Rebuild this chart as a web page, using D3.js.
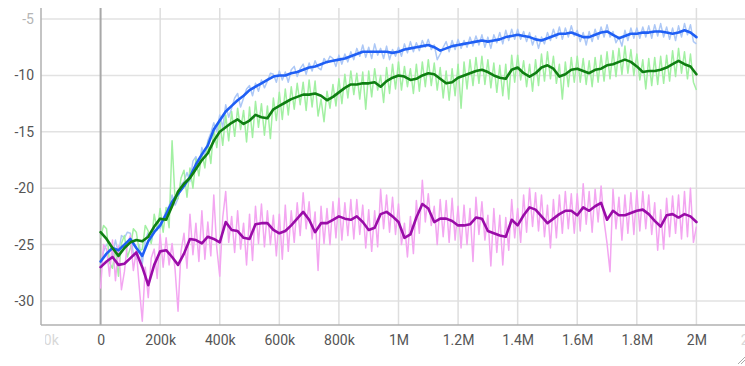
<!DOCTYPE html>
<html>
<head>
<meta charset="utf-8">
<script src="https://cdn.jsdelivr.net/npm/d3@7"></script>
<style>
  html, body { margin: 0; padding: 0; background: #fff; }
  svg { display: block; font-family: Roboto, "Noto Sans", sans-serif; }
</style>
</head>
<body>
<div id="chart"></div>
<script>
// raw samples every 10k steps, smoothed curve sampled every 20k
const rawSteps = d3.range(0, 2000001, 10000)
const smoothSteps = d3.range(0, 2000001, 20000)

const xTicks = [-200000, 0, 200000, 400000, 600000, 800000, 1000000, 1200000, 1400000, 1600000, 1800000, 2000000, 2200000]
const xTickLabels = ['-200k', '0', '200k', '400k', '600k', '800k', '1M', '1.2M', '1.4M', '1.6M', '1.8M', '2M', '2.2M']
const yTicks = [-5, -10, -15, -20, -25, -30]

// blue run
const blueRaw = [
  -26.9, -25.6, -25.0, -24.8, -25.9, -24.6, -25.8, -24.2, -24.4, -23.9, -24.0, -25.8, -26.3, -25.0, -26.7, -24.6, -23.9, -24.8, -23.5, -23.0,
  -23.6, -22.8, -22.0, -21.6, -20.6, -21.5, -20.9, -19.7, -19.4, -18.6, -19.4, -17.6, -17.2, -18.1, -16.4, -17.2, -15.8, -15.1, -14.2, -15.0,
  -13.5, -14.6, -12.6, -13.7, -12.9, -12.0, -11.6, -12.8, -12.0, -11.2, -10.9, -11.8, -10.7, -11.4, -10.4, -11.1, -10.5, -9.8, -9.9, -10.6,
  -9.6, -10.4, -9.7, -10.6, -9.5, -9.2, -10.1, -9.4, -9.0, -9.9, -8.9, -9.6, -8.7, -9.3, -9.5, -8.5, -8.9, -8.3, -8.5, -9.2,
  -8.2, -9.0, -8.1, -8.8, -7.9, -8.6, -7.6, -8.3, -7.3, -8.4, -7.5, -8.5, -7.2, -8.2, -7.6, -8.5, -7.4, -8.6, -7.7, -8.3,
  -7.5, -8.3, -7.2, -8.0, -7.0, -7.9, -7.1, -7.8, -6.9, -7.5, -6.8, -7.7, -7.3, -8.6, -8.1, -7.5, -7.0, -7.9, -6.9, -7.7,
  -6.8, -7.6, -6.9, -7.5, -6.6, -7.4, -6.5, -7.3, -6.4, -7.5, -6.6, -7.6, -6.4, -7.1, -6.2, -7.2, -6.0, -6.9, -5.9, -6.8,
  -5.9, -6.8, -6.1, -7.0, -6.2, -7.3, -6.5, -7.6, -6.6, -7.2, -6.2, -6.9, -5.9, -6.7, -5.7, -6.8, -5.8, -6.6, -5.6, -6.5,
  -6.0, -7.0, -6.2, -7.3, -6.1, -7.0, -5.9, -6.8, -5.7, -6.6, -5.5, -6.6, -6.1, -7.1, -6.6, -7.4, -6.0, -6.9, -5.8, -6.7,
  -5.8, -6.7, -5.7, -6.6, -5.6, -6.7, -5.5, -6.5, -5.4, -6.6, -5.7, -6.8, -5.8, -6.9, -5.6, -6.6, -5.4, -6.4, -5.5, -7.0,
  -7.2]
const blueSmooth = [-26.5, -25.8, -25.3, -25.5, -25.0, -24.5, -25.3, -26.0, -24.7, -23.9,
  -23.3, -22.3, -21.2, -20.5, -19.8, -19.0, -17.9, -17.0, -16.2, -14.8,
  -14.0, -13.2, -12.7, -12.2, -11.8, -11.3, -11.0, -10.7, -10.4, -10.1,
  -10.0, -10.0, -9.8, -9.7, -9.5, -9.3, -9.2, -9.0, -8.8, -8.7,
  -8.6, -8.5, -8.3, -8.1, -7.9, -7.9, -7.9, -7.9, -7.9, -8.0,
  -7.9, -7.7, -7.6, -7.5, -7.4, -7.3, -7.5, -7.8, -7.6, -7.4,
  -7.3, -7.2, -7.1, -7.0, -6.9, -7.0, -6.9, -6.8, -6.6, -6.5,
  -6.4, -6.5, -6.6, -6.8, -6.9, -6.7, -6.5, -6.3, -6.3, -6.2,
  -6.4, -6.6, -6.6, -6.4, -6.2, -6.1, -6.4, -6.7, -6.5, -6.3,
  -6.3, -6.2, -6.2, -6.1, -6.1, -6.2, -6.3, -6.2, -6.0, -6.2, -6.6]

// green run
const greenRaw = [
  -24.4, -23.3, -23.6, -26.6, -27.1, -25.4, -27.8, -24.9, -24.2, -26.1, -25.3, -23.6, -23.9, -25.6, -25.4, -23.3, -23.8, -24.9, -22.3, -23.7,
  -21.8, -23.9, -21.7, -23.5, -15.8, -21.0, -20.9, -19.1, -18.4, -20.8, -18.2, -20.0, -17.4, -18.9, -16.8, -18.2, -15.9, -17.8, -14.7, -16.4,
  -14.0, -16.2, -13.5, -15.8, -13.2, -15.4, -12.9, -14.8, -13.1, -15.9, -12.8, -15.5, -12.3, -14.6, -12.5, -15.3, -12.7, -15.6, -12.0, -14.0,
  -11.5, -13.9, -11.2, -13.5, -11.0, -13.0, -10.7, -12.6, -10.6, -13.1, -10.4, -12.8, -10.5, -13.6, -12.1, -14.1, -11.4, -12.9, -10.8, -12.7,
  -10.3, -12.5, -9.9, -12.0, -9.6, -11.7, -9.8, -12.1, -9.7, -13.0, -9.6, -11.9, -9.4, -11.3, -10.0, -12.4, -9.3, -11.6, -9.0, -11.2,
  -8.8, -11.3, -9.2, -11.0, -9.4, -11.6, -9.0, -11.4, -8.8, -11.0, -8.6, -10.9, -8.9, -11.3, -9.3, -12.0, -9.6, -12.2, -9.4, -11.8,
  -9.0, -12.9, -8.8, -11.2, -8.6, -10.9, -8.4, -10.7, -8.3, -10.8, -8.6, -11.1, -8.9, -11.5, -9.1, -11.8, -9.0, -12.1, -8.2, -10.6,
  -8.2, -10.4, -8.7, -11.0, -9.0, -11.4, -8.6, -10.9, -8.1, -10.5, -7.9, -10.3, -8.3, -10.7, -9.0, -12.1, -8.8, -11.0, -8.4, -10.6,
  -8.3, -10.6, -8.5, -10.8, -8.7, -11.0, -8.4, -10.6, -8.2, -10.5, -7.9, -10.3, -7.8, -10.1, -7.6, -9.9, -7.4, -9.8, -7.7, -10.0,
  -8.1, -10.4, -8.6, -11.2, -8.5, -10.9, -8.4, -10.8, -8.3, -10.7, -8.2, -10.5, -7.8, -10.1, -7.6, -9.8, -7.9, -10.3, -8.1, -10.6,
  -11.3]
const greenSmooth = [-23.9, -24.5, -25.3, -26.0, -25.3, -24.8, -24.6, -24.7, -24.3, -23.4,
  -22.7, -22.8, -21.6, -20.3, -19.6, -19.1, -18.3, -17.5, -16.9, -15.8,
  -15.0, -14.6, -14.2, -13.9, -14.3, -14.0, -13.5, -13.7, -13.8, -13.0,
  -12.7, -12.4, -12.1, -11.9, -11.7, -11.7, -11.6, -11.8, -12.2, -11.9,
  -11.5, -11.1, -10.8, -10.8, -10.7, -10.7, -10.6, -11.0, -10.5, -10.2,
  -10.0, -10.1, -10.4, -10.3, -10.0, -9.8, -9.9, -10.3, -10.7, -10.6,
  -10.2, -10.0, -9.8, -9.6, -9.5, -9.7, -10.0, -10.2, -10.3, -9.5,
  -9.3, -9.8, -10.1, -9.8, -9.3, -9.1, -9.4, -10.1, -9.9, -9.5,
  -9.4, -9.6, -9.8, -9.5, -9.4, -9.1, -9.0, -8.8, -8.6, -8.8,
  -9.2, -9.7, -9.6, -9.6, -9.5, -9.3, -9.0, -8.7, -9.0, -9.2, -9.9]

// purple run
const purpleRaw = [
  -28.9, -25.0, -25.4, -27.8, -24.6, -28.2, -25.1, -29.0, -27.4, -24.9, -24.2, -27.3, -25.5, -28.8, -31.8, -27.0, -29.7, -26.2, -25.4, -28.0,
  -24.1, -27.0, -24.4, -26.8, -24.9, -27.2, -30.9, -25.6, -24.0, -27.1, -22.3, -25.9, -23.1, -26.5, -22.0, -26.3, -23.0, -26.0, -20.6, -25.3,
  -27.8, -22.6, -20.3, -24.8, -22.5, -25.7, -22.0, -25.4, -23.1, -26.8, -22.3, -26.4, -21.6, -24.9, -21.4, -25.2, -22.0, -25.0, -22.4, -26.0,
  -22.3, -26.3, -21.5, -25.6, -22.0, -24.8, -21.3, -24.2, -20.4, -23.6, -21.2, -24.5, -22.1, -27.3, -21.6, -24.9, -21.8, -25.0, -21.2, -24.4,
  -20.9, -24.6, -21.3, -24.2, -21.0, -24.5, -21.0, -24.1, -21.5, -25.3, -21.9, -25.6, -22.0, -25.2, -20.1, -23.6, -20.6, -23.9, -20.8, -24.1,
  -21.4, -25.0, -23.1, -26.1, -22.5, -25.8, -21.1, -24.0, -19.3, -23.0, -20.5, -23.3, -21.6, -25.0, -21.0, -24.3, -21.1, -24.8, -20.9, -24.6,
  -21.6, -25.3, -21.5, -25.0, -21.8, -26.5, -20.8, -24.1, -21.2, -24.6, -22.4, -26.9, -21.8, -25.7, -22.4, -26.8, -22.6, -25.5, -21.0, -24.4,
  -21.8, -24.8, -20.6, -23.9, -20.0, -23.4, -20.4, -23.8, -20.6, -24.3, -21.5, -25.3, -21.0, -24.4, -20.6, -24.0, -20.3, -23.6, -20.5, -24.0,
  -20.5, -23.8, -19.6, -23.2, -20.3, -23.9, -20.1, -23.0, -19.8, -22.9, -24.9, -27.4, -20.1, -23.6, -20.8, -24.6, -20.6, -24.0, -20.4, -24.1,
  -20.2, -23.8, -20.3, -23.6, -20.6, -24.1, -21.3, -25.5, -21.9, -25.4, -20.9, -24.3, -20.7, -24.0, -20.6, -24.5, -20.3, -24.3, -20.0, -24.8,
  -23.4]
const purpleSmooth = [-27.0, -26.5, -26.1, -26.8, -26.7, -26.2, -25.7, -27.0, -28.6, -26.8,
  -25.6, -25.5, -26.1, -26.8, -25.8, -24.5, -24.6, -24.9, -24.3, -24.5,
  -24.8, -23.0, -23.7, -23.8, -24.4, -24.5, -23.2, -23.1, -23.1, -23.7,
  -24.0, -23.8, -23.3, -22.7, -22.1, -22.8, -23.9, -23.1, -23.1, -22.8,
  -22.5, -22.7, -22.8, -22.5, -23.0, -23.7, -23.5, -22.3, -22.1, -22.5,
  -23.0, -24.4, -24.1, -22.6, -21.4, -21.8, -23.0, -22.7, -22.7, -22.9,
  -23.3, -23.3, -23.2, -22.6, -22.7, -23.8, -24.0, -24.2, -24.3, -22.8,
  -23.3, -22.4, -21.7, -21.9, -22.5, -23.1, -22.7, -22.3, -22.0, -22.0,
  -22.4, -21.7, -22.0, -21.6, -21.3, -22.8, -22.0, -22.4, -22.4, -22.2,
  -22.0, -21.9, -22.3, -22.9, -23.4, -22.4, -22.3, -22.6, -22.3, -22.5, -23.0]

const runs = [
  {raw: blueRaw, smooth: blueSmooth, light: '#adc8f6', dark: '#1f5ff5'},
  {raw: greenRaw, smooth: greenSmooth, light: '#a2f0a2', dark: '#0f7f12'},
  {raw: purpleRaw, smooth: purpleSmooth, light: '#f3a6f1', dark: '#9a0ca8'}
]

const W = 745, H = 366
const plot = {left: 41, right: 756, top: 8, bottom: 325}

const svg = d3.select('#chart').append('svg')
  .attr('width', W)
  .attr('height', H)

const x = d3.scaleLinear().domain([-200000, 2200000]).range([plot.left, plot.right])
const y = d3.scaleLinear().domain([-32.13, -4.02]).range([plot.bottom, plot.top])

// grid
svg.append('g').selectAll('line')
  .data(yTicks)
  .join('line')
    .attr('x1', plot.left).attr('x2', W)
    .attr('y1', d => y(d)).attr('y2', d => y(d))
    .attr('stroke', '#e2e2e2').attr('stroke-width', 1.5)

svg.append('g').selectAll('line')
  .data(xTicks.filter(d => d > -200000))
  .join('line')
    .attr('x1', d => x(d)).attr('x2', d => x(d))
    .attr('y1', plot.top).attr('y2', plot.bottom)
    .attr('stroke', d => d === 0 ? '#a8a8a8' : '#dedede')
    .attr('stroke-width', d => d === 0 ? 2 : 1.5)

// axes frame
svg.append('line')
  .attr('x1', plot.left).attr('x2', plot.left)
  .attr('y1', plot.top).attr('y2', plot.bottom)
  .attr('stroke', '#b0b0b0').attr('stroke-width', 1.5)
svg.append('line')
  .attr('x1', plot.left).attr('x2', W)
  .attr('y1', plot.bottom).attr('y2', plot.bottom)
  .attr('stroke', '#b0b0b0').attr('stroke-width', 1.5)

// series
const rawLine = d3.line()
  .x((d, i) => x(rawSteps[i]))
  .y(d => y(d))
const smoothLine = d3.line()
  .x((d, i) => x(smoothSteps[i]))
  .y(d => y(d))

const g = svg.append('g')
runs.forEach(r => {
  g.append('path')
    .datum(r.raw)
    .attr('d', rawLine)
    .attr('fill', 'none')
    .attr('stroke', r.light)
    .attr('stroke-width', 1.5)
    .attr('stroke-linejoin', 'round')
})
runs.forEach(r => {
  g.append('path')
    .datum(r.smooth)
    .attr('d', smoothLine)
    .attr('fill', 'none')
    .attr('stroke', r.dark)
    .attr('stroke-width', 2.6)
    .attr('stroke-linejoin', 'round')
    .attr('stroke-linecap', 'round')
})

// y axis labels
const yAxis = svg.append('g')
  .attr('transform', `translate(${plot.left - 7},0)`)
  .call(d3.axisLeft(y).tickValues(yTicks).tickSize(0).tickPadding(0).tickFormat(d => d))
yAxis.select('.domain').remove()
yAxis.selectAll('text')
  .attr('font-size', 14)
  .attr('font-family', 'Roboto, sans-serif')
  .attr('fill', d => d === -5 ? '#b5b5b5' : '#555')

// x axis labels, the outer ones clipped like the original view
svg.append('clipPath').attr('id', 'xclip')
  .append('rect').attr('x', 45).attr('y', plot.bottom).attr('width', W).attr('height', 40)

const xAxis = svg.append('g')
  .attr('clip-path', 'url(#xclip)')
  .append('g')
  .attr('transform', `translate(0,${plot.bottom + 10})`)
  .call(d3.axisBottom(x).tickValues(xTicks).tickSize(0).tickPadding(0)
    .tickFormat((d, i) => xTickLabels[i]))
xAxis.select('.domain').remove()
xAxis.selectAll('text')
  .attr('font-size', 14)
  .attr('font-family', 'Roboto, sans-serif')
  .attr('fill', d => (d < 0 || d > 2000000) ? '#d8d8d8' : '#555')

// resize grip, bottom right
const grip = svg.append('g').attr('stroke', '#aaa').attr('stroke-width', 1)
grip.append('line').attr('x1', 738).attr('y1', 364).attr('x2', 745).attr('y2', 357)
grip.append('line').attr('x1', 741).attr('y1', 364).attr('x2', 745).attr('y2', 360)
</script>
</body>
</html>
